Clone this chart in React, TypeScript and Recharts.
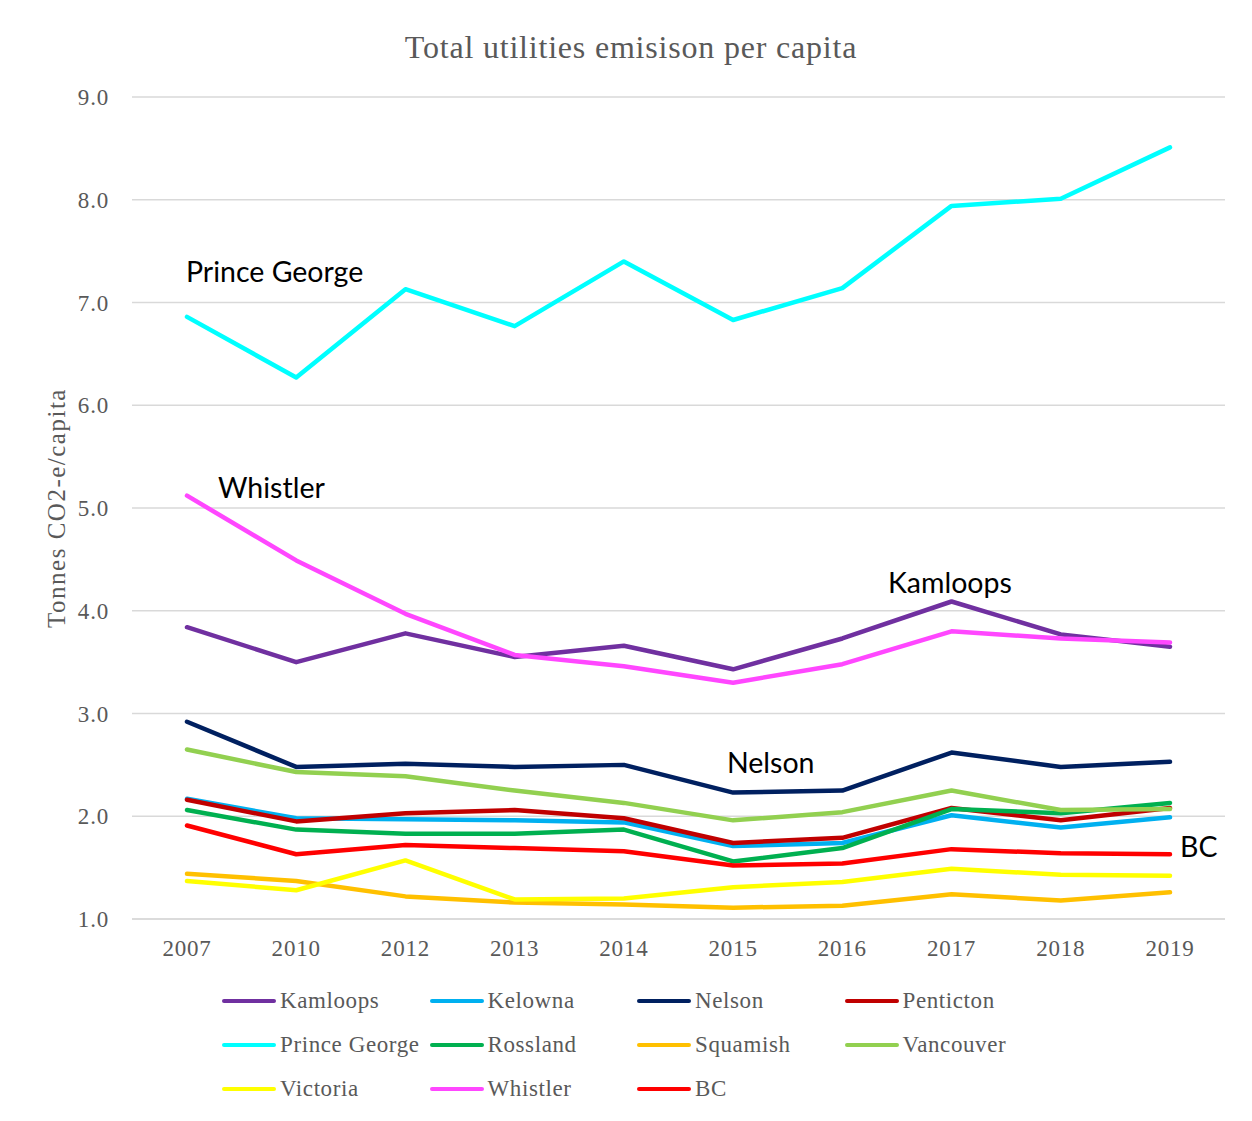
import { LineChart, Line, XAxis, YAxis, CartesianGrid } from 'recharts'

const years = ['2007', '2010', '2012', '2013', '2014', '2015', '2016', '2017', '2018', '2019']

const kamloops = [3.84, 3.5, 3.78, 3.55, 3.66, 3.43, 3.73, 4.09, 3.77, 3.65]
const kelowna = [2.17, 1.98, 1.97, 1.96, 1.94, 1.71, 1.74, 2.01, 1.89, 1.99]
const nelson = [2.92, 2.48, 2.51, 2.48, 2.5, 2.23, 2.25, 2.62, 2.48, 2.53]
const penticton = [2.16, 1.95, 2.03, 2.06, 1.98, 1.74, 1.79, 2.08, 1.96, 2.08]
const princeGeorge = [6.86, 6.27, 7.13, 6.77, 7.4, 6.83, 7.14, 7.94, 8.01, 8.51]
const rossland = [2.06, 1.87, 1.83, 1.83, 1.87, 1.56, 1.69, 2.07, 2.03, 2.13]
const squamish = [1.44, 1.37, 1.22, 1.16, 1.14, 1.11, 1.13, 1.24, 1.18, 1.26]
const vancouver = [2.65, 2.43, 2.39, 2.25, 2.13, 1.96, 2.04, 2.25, 2.06, 2.07]
const victoria = [1.37, 1.28, 1.57, 1.19, 1.2, 1.31, 1.36, 1.49, 1.43, 1.42]
const whistler = [5.12, 4.49, 3.97, 3.57, 3.46, 3.3, 3.48, 3.8, 3.73, 3.69]
const bc = [1.91, 1.63, 1.72, 1.69, 1.66, 1.52, 1.54, 1.68, 1.64, 1.63]

const yTicks = [1, 2, 3, 4, 5, 6, 7, 8, 9]

const series = [
  { name: 'Kamloops', values: kamloops, color: '#7030A0' },
  { name: 'Kelowna', values: kelowna, color: '#00B0F0' },
  { name: 'Nelson', values: nelson, color: '#002060' },
  { name: 'Penticton', values: penticton, color: '#C00000' },
  { name: 'Prince George', values: princeGeorge, color: '#00FFFF' },
  { name: 'Rossland', values: rossland, color: '#00B050' },
  { name: 'Squamish', values: squamish, color: '#FFC000' },
  { name: 'Vancouver', values: vancouver, color: '#92D050' },
  { name: 'Victoria', values: victoria, color: '#FFFF00' },
  { name: 'Whistler', values: whistler, color: '#FF47FF' },
  { name: 'BC', values: bc, color: '#FF0000' },
]

const data = years.map((year, i) => {
  const row: Record<string, string | number> = { year }
  series.forEach(s => { row[s.name] = s.values[i] })
  return row
})

const serif = '"Liberation Serif", "DejaVu Serif", serif'
const sans = 'Lato, "Open Sans", sans-serif'

// callouts placed next to the lines, as in the original
const callouts = [
  { text: 'Prince George', x: 186, y: 282 },
  { text: 'Whistler', x: 218, y: 498 },
  { text: 'Kamloops', x: 888, y: 593 },
  { text: 'Nelson', x: 727, y: 773 },
  { text: 'BC', x: 1180, y: 857 },
]

const tickStyle = { fill: '#595959', fontSize: 23, fontFamily: serif, letterSpacing: 0.8 }

export default function App() {
  return (
    <div style={{ position: 'relative', width: 1252, height: 1121, margin: -8, background: '#fff' }}>
      <div style={{ position: 'absolute', left: 6, top: 7, width: 1238, height: 1110, border: '1px solid #d0d0d0' }} />

      <div style={{ position: 'absolute', left: 0, top: 0 }}>
        <LineChart width={1252} height={1121} data={data} margin={{ top: 97, right: 27, bottom: 162, left: 0 }}>
          <CartesianGrid vertical={false} stroke="#d9d9d9" strokeWidth={1.5} />
          <XAxis
            dataKey="year"
            height={40}
            padding={{ left: 55, right: 55 }}
            axisLine={{ stroke: '#d9d9d9', strokeWidth: 1.5 }}
            tickLine={false}
            tickMargin={15}
            tick={tickStyle}
          />
          <YAxis
            width={132}
            domain={[1, 9]}
            ticks={yTicks}
            interval={0}
            axisLine={false}
            tickLine={false}
            tickMargin={17}
            tickFormatter={(v: number) => v.toFixed(1)}
            tick={tickStyle}
          />
          {series.map(s => (
            <Line
              key={s.name}
              dataKey={s.name}
              stroke={s.color}
              strokeWidth={4.5}
              strokeLinecap="round"
              strokeLinejoin="round"
              dot={false}
              activeDot={false}
              isAnimationActive={false}
            />
          ))}
        </LineChart>
      </div>

      <svg width={1252} height={1121} style={{ position: 'absolute', left: 0, top: 0, pointerEvents: 'none' }}>
        <text x={631} y={58} textAnchor="middle" fill="#595959" fontSize={32} letterSpacing={0.8} fontFamily={serif}>
          Total utilities emisison per capita
        </text>
        <text
          x={0}
          y={0}
          transform="translate(65, 508) rotate(-90)"
          textAnchor="middle"
          fill="#595959"
          fontSize={25}
          letterSpacing={1.5}
          fontFamily={serif}
        >
          Tonnes CO2-e/capita
        </text>
        {callouts.map(c => (
          <text key={c.text} x={c.x} y={c.y} fill="#000" fontSize={28.5} fontFamily={sans}>
            {c.text}
          </text>
        ))}
      </svg>

      <div style={{ position: 'absolute', left: 222, top: 988, width: 900 }}>
        {series.map((s, i) => (
          <div
            key={s.name}
            style={{
              position: 'absolute',
              left: (i % 4) * 207.5,
              top: Math.floor(i / 4) * 44,
              display: 'flex',
              alignItems: 'center',
              height: 26,
              whiteSpace: 'nowrap',
            }}
          >
            <span style={{ display: 'inline-block', width: 54, height: 4, borderRadius: 2, background: s.color, marginRight: 4 }} />
            <span style={{ fontFamily: serif, fontSize: 23, letterSpacing: 0.6, color: '#595959' }}>{s.name}</span>
          </div>
        ))}
      </div>
    </div>
  )
}
